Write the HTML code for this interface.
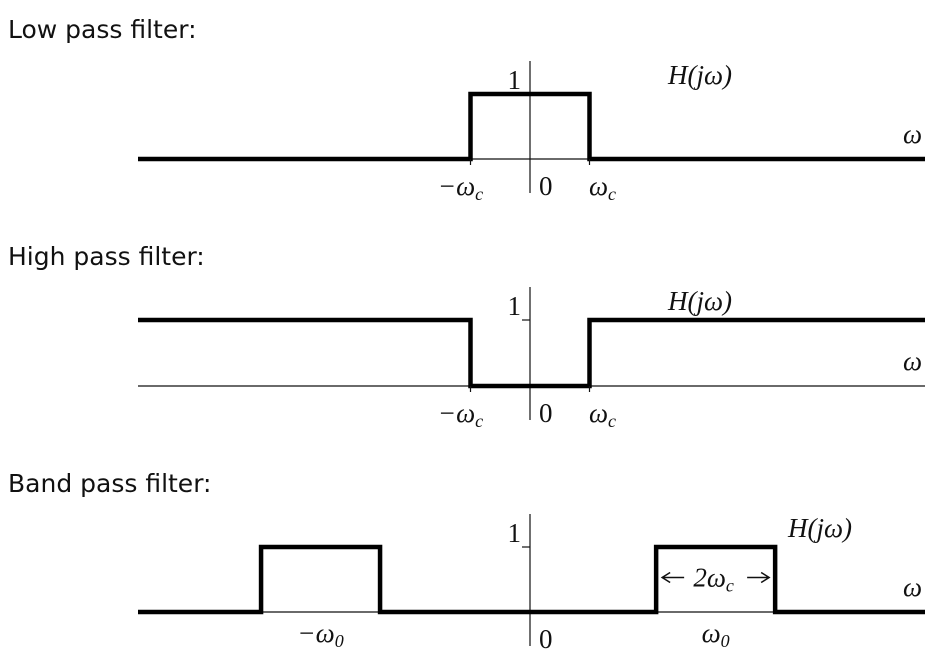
<!DOCTYPE html>
<html><head><meta charset="utf-8"><style>
html,body{margin:0;padding:0;background:#fff;}
svg{display:block}
.t{font-family:"DejaVu Sans","Liberation Sans",sans-serif;font-size:25px;fill:#111}
.m{font-family:"Liberation Serif",serif;font-style:italic;font-size:27px;fill:#111}
.n{font-family:"Liberation Serif",serif;font-size:27px;fill:#111}
</style></head><body>
<svg id="c" width="940" height="651" xmlns="http://www.w3.org/2000/svg">
<text class="t" x="8" y="38">Low pass filter:</text>
<text class="t" x="8" y="265">High pass filter:</text>
<text class="t" x="8" y="492">Band pass filter:</text>
</svg>
<script>
// data (frequency in units of ωc)
const omegaC = [1];
const bandCenters = [-3.52, 3.12];
const bandHalfWidth = [1];
const gains = [0, 1];
const panelNames = ['low-pass','high-pass','band-pass'];

const svg = document.getElementById('c');
const NS = 'http://www.w3.org/2000/svg';
const X0 = 530, PX = 59.5, XMIN = 138, XMAX = 925;
const sx = w => X0 + w * PX;
const panels = [{base:159, top:94}, {base:386, top:320}, {base:612, top:547}];
function mk(tag, attrs, name){
  const e = document.createElementNS(NS, tag);
  for (const k in attrs) e.setAttribute(k, attrs[k]);
  
  
  svg.appendChild(e); return e;
}
function txt(cls, x, y, s, name, anchor){
  const e = mk('text', {class: cls, x: x, y: y, 'text-anchor': anchor || 'start'}, name);
  e.innerHTML = s; return e;
}
function sy(p, g){ return p.base + (p.top - p.base) * g; }
function stepPath(p, pts){
  let d = '';
  pts.forEach((q, i) => {
    const x = q[0] <= -99 ? XMIN : q[0] >= 99 ? XMAX : sx(q[0]);
    d += (i ? 'L' : 'M') + x + ' ' + sy(p, q[1]) + ' ';
  });
  return d;
}
const wc = omegaC[0], hb = bandHalfWidth[0];
const bL = bandCenters[0], bR = bandCenters[1];
const g0 = gains[0], g1 = gains[1];
const shapes = [
  [[-100,g0],[-wc,g0],[-wc,g1],[wc,g1],[wc,g0],[100,g0]],
  [[-100,g1],[-wc,g1],[-wc,g0],[wc,g0],[wc,g1],[100,g1]],
  [[-100,g0],[bL-hb,g0],[bL-hb,g1],[bL+hb,g1],[bL+hb,g0],[bR-hb,g0],[bR-hb,g1],[bR+hb,g1],[bR+hb,g0],[100,g0]]
];
panels.forEach((p, i) => {
  const nm = panelNames[i];
  mk('line', {x1: XMIN, x2: XMAX, y1: p.base, y2: p.base, stroke: '#111', 'stroke-width': 1.2}, nm + '-x-axis');
  mk('line', {x1: X0, x2: X0, y1: p.top - 33, y2: p.base + 34, stroke: '#111', 'stroke-width': 1.2}, nm + '-y-axis');
  mk('line', {x1: X0 - 8, x2: X0, y1: p.top, y2: p.top, stroke: '#111', 'stroke-width': 1.2}, nm + '-tick-1');
  mk('path', {d: stepPath(p, shapes[i]), fill: 'none', stroke: '#000', 'stroke-width': 4.5, 'stroke-linejoin': 'miter'}, nm + '-response');
  txt('n', X0 - 9, p.top - 5, '1', nm + '-label-1', 'end');
  txt('m', 903, p.base - 16, 'ω', nm + '-omega-label');
  txt('n', X0 + 9, p.base + 36, '0', nm + '-label-0');
  if (i < 2) {
    txt('m', sx(-wc) - 10, p.base + 36, '−ω<tspan font-size="18" dy="5">c</tspan>', nm + '-label-neg-wc', 'middle');
    txt('m', sx(wc) + 13, p.base + 36, 'ω<tspan font-size="18" dy="5">c</tspan>', nm + '-label-wc', 'middle');
    txt('m', 668, p.top - 10, 'H(jω)', nm + '-h-label');
    [-wc, wc].forEach((w, k) => mk('line', {x1: sx(w), x2: sx(w), y1: p.base, y2: p.base + 6, stroke: '#111', 'stroke-width': 1.2}, nm + '-tick-' + k));
  } else {
    txt('m', sx(bL), p.base + 30, '−ω<tspan font-size="18" dy="5">0</tspan>', nm + '-label-neg-w0', 'middle');
    txt('m', sx(bR), p.base + 30, 'ω<tspan font-size="18" dy="5">0</tspan>', nm + '-label-w0', 'middle');
    txt('m', 788, p.top - 10, 'H(jω)', nm + '-h-label');
    const ay = (p.top + p.base) / 2 - 2;
    const xa = sx(bR - hb) + 6, xb = sx(bR + hb) - 6;
    mk('path', {d: `M${xa} ${ay}L${xa+22} ${ay}M${xb-22} ${ay}L${xb} ${ay}M${xa+8} ${ay-5}L${xa} ${ay}L${xa+8} ${ay+5}M${xb-8} ${ay-5}L${xb} ${ay}L${xb-8} ${ay+5}`, fill: 'none', stroke: '#111', 'stroke-width': 1.5}, 'bandwidth-arrow');
    txt('m', sx(bR) - 2, ay + 9, '2ω<tspan font-size="18" dy="5">c</tspan>', 'bandwidth-label', 'middle');
  }
});
</script>
</body></html>
